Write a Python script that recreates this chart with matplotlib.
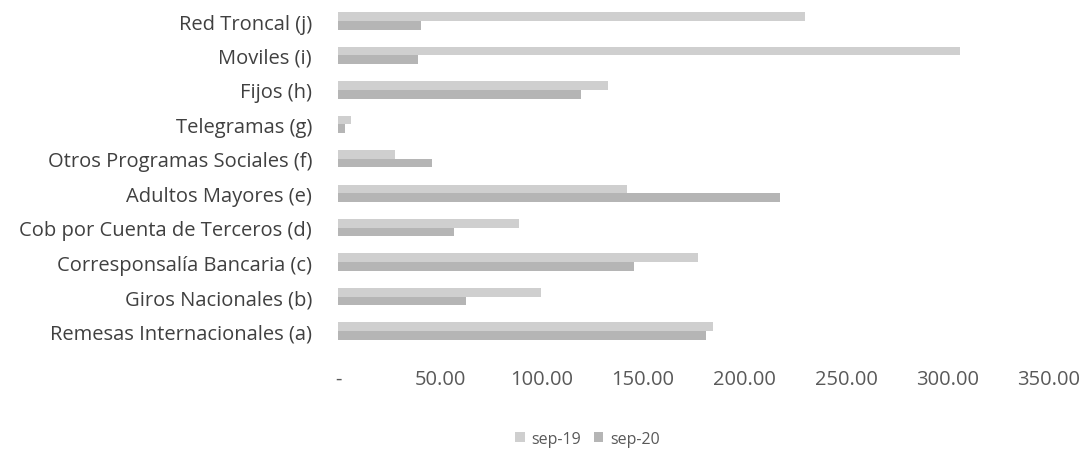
import numpy as np
import matplotlib
matplotlib.use("Agg")
import matplotlib.pyplot as plt

# categories, bottom to top (as in the reference)
categories = [
    "Remesas Internacionales (a)",
    "Giros Nacionales (b)",
    "Corresponsalía Bancaria (c)",
    "Cob por Cuenta de Terceros (d)",
    "Adultos Mayores (e)",
    "Otros Programas Sociales (f)",
    "Telegramas (g)",
    "Fijos (h)",
    "Moviles (i)",
    "Red Troncal (j)",
]
sep19 = [184.5, 100, 177, 89, 142, 28, 6, 133, 306, 230]
sep20 = [181, 63, 145.5, 57, 217.5, 46, 3, 119.5, 39, 40.5]
xticks = [0, 50, 100, 150, 200, 250, 300, 350]

plt.rcParams['font.family'] = ['Open Sans', 'DejaVu Sans']

fig = plt.figure(figsize=(10.82, 4.52), dpi=100)
ax = fig.add_axes([0.3128, 0.2274, 0.6567, 0.762])

y = np.arange(len(categories))
h = 0.25
ax.barh(y + h / 2, sep19, height=h, color='#cfcfcf', label='sep-19')
ax.barh(y - h / 2, sep20, height=h, color='#b5b5b5', label='sep-20')

ax.set_ylim(-0.5, len(categories) - 0.5)
ax.set_xlim(0, 350)
ax.set_yticks(y)
ax.set_yticklabels(categories, fontsize=14.5, color='#404040')
ax.set_xticks(xticks)
ax.set_xticklabels(['-'] + ['%.2f' % v for v in xticks[1:]], fontsize=14.5, color='#595959')
ax.tick_params(axis='both', length=0)
ax.tick_params(axis='x', pad=15)
ax.tick_params(axis='y', pad=19)
for s in ax.spines.values():
    s.set_visible(False)

fig.legend(loc='center', bbox_to_anchor=(0.543, 0.027), ncol=2, frameon=False,
           fontsize=11.5, handlelength=0.6, handleheight=0.6, handletextpad=0.4,
           columnspacing=0.8, labelcolor='#595959')

fig.savefig('out.png', dpi=100)
